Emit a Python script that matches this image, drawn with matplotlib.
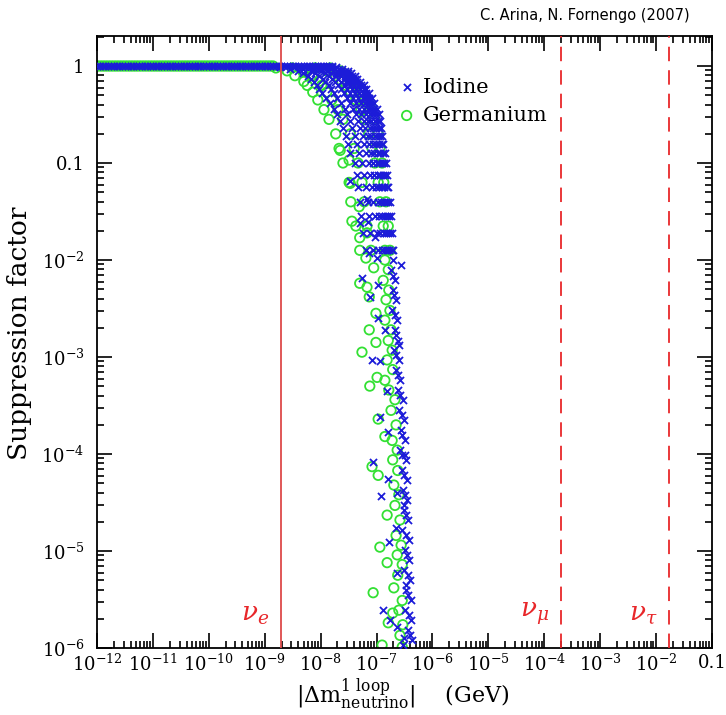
import numpy as np
import matplotlib
matplotlib.use("Agg")
import matplotlib.pyplot as plt
from matplotlib.ticker import LogLocator, NullFormatter

plt.rcParams["font.family"] = ["DejaVu Serif"]
plt.rcParams["mathtext.fontset"] = "dejavuserif"

# --- data: log10 |dm| (GeV) and log10 suppression factor ---

# flat part, suppression = 1
flat_logx = [-12.00, -11.95, -11.90, -11.85, -11.80, -11.75, -11.70, -11.65, -11.60, -11.55,
             -11.50, -11.45, -11.40, -11.35, -11.30, -11.25, -11.20, -11.15, -11.10, -11.05,
             -11.00, -10.95, -10.90, -10.85, -10.80, -10.75, -10.70, -10.65, -10.60, -10.55,
             -10.50, -10.45, -10.40, -10.35, -10.30, -10.25, -10.20, -10.15, -10.10, -10.05,
             -10.00, -9.95, -9.90, -9.85, -9.80, -9.75, -9.70, -9.65, -9.60, -9.55,
             -9.50, -9.45, -9.40, -9.35, -9.30, -9.25, -9.20, -9.15, -9.10, -9.05,
             -9.00, -8.95, -8.90, -8.85, -8.80, -8.75, -8.70, -8.65, -8.60, -8.55,
             -8.50, -8.45, -8.40, -8.35, -8.30, -8.25, -8.20, -8.15, -8.10, -8.05,
             -8.00, -7.95, -7.90, -7.85, -7.80]
germanium_flat_end = -8.85

# bending part, iodine (one row per curve, values at iodine_fan_logy)
iodine_fan_logy = [-0.01, -0.03, -0.05, -0.07, -0.10, -0.13, -0.16, -0.20, -0.24, -0.28,
                   -0.33, -0.38, -0.44, -0.50, -0.57, -0.64, -0.72, -0.80, -0.90, -1.00,
                   -1.12, -1.25, -1.40, -1.55, -1.72, -1.90]
iodine_fan_logx = [
    [-7.73, -7.62, -7.51, -7.46, -7.39, -7.34, -7.30, -7.22, -7.18, -7.13, -7.08, -7.05, -7.00,
     -6.96, -6.94, -6.92, -6.90, -6.88, -6.85, -6.83, -6.81, -6.79, -6.76, -6.74, -6.72, -6.71],
    [-7.79, -7.67, -7.56, -7.51, -7.44, -7.39, -7.35, -7.27, -7.23, -7.18, -7.13, -7.09, -7.05,
     -7.01, -6.98, -6.96, -6.94, -6.91, -6.89, -6.86, -6.85, -6.82, -6.79, -6.77, -6.75, -6.73],
    [-7.86, -7.74, -7.63, -7.57, -7.49, -7.45, -7.40, -7.33, -7.29, -7.24, -7.19, -7.15, -7.10,
     -7.06, -7.03, -7.01, -6.98, -6.96, -6.93, -6.90, -6.88, -6.86, -6.83, -6.81, -6.79, -6.77],
    [-7.94, -7.81, -7.70, -7.64, -7.56, -7.51, -7.47, -7.40, -7.36, -7.31, -7.25, -7.21, -7.16,
     -7.12, -7.09, -7.06, -7.03, -7.01, -6.98, -6.95, -6.93, -6.90, -6.87, -6.85, -6.83, -6.81],
    [-8.03, -7.90, -7.78, -7.72, -7.64, -7.59, -7.54, -7.48, -7.43, -7.38, -7.33, -7.28, -7.23,
     -7.19, -7.15, -7.12, -7.09, -7.06, -7.04, -7.00, -6.98, -6.95, -6.92, -6.90, -6.87, -6.85],
    [-8.14, -8.00, -7.88, -7.81, -7.73, -7.68, -7.64, -7.57, -7.52, -7.47, -7.42, -7.37, -7.31,
     -7.27, -7.23, -7.20, -7.16, -7.13, -7.10, -7.06, -7.04, -7.01, -6.98, -6.95, -6.93, -6.91],
    [-8.28, -8.13, -8.00, -7.93, -7.85, -7.80, -7.75, -7.69, -7.64, -7.59, -7.53, -7.48, -7.42,
     -7.37, -7.33, -7.29, -7.25, -7.22, -7.19, -7.14, -7.12, -7.08, -7.06, -7.03, -7.00, -6.98],
    [-8.48, -8.32, -8.18, -8.10, -8.02, -7.96, -7.92, -7.85, -7.81, -7.76, -7.70, -7.64, -7.57,
     -7.52, -7.48, -7.43, -7.38, -7.35, -7.31, -7.26, -7.23, -7.19, -7.16, -7.14, -7.11, -7.07],
    [-8.73, -8.55, -8.40, -8.32, -8.23, -8.17, -8.12, -8.06, -8.03, -7.98, -7.90, -7.83, -7.76,
     -7.71, -7.65, -7.60, -7.55, -7.51, -7.47, -7.39, -7.35, -7.33, -7.30, -7.28, -7.24, -7.19],
]

# bending part, germanium
germanium_fan_logy = [-0.02, -0.05, -0.10, -0.16, -0.20, -0.27, -0.35, -0.45,
                      -0.55, -0.70, -0.85, -1.00, -1.20, -1.40, -1.65, -1.90]
germanium_fan_logx = [
    [-8.80, -8.60, -8.46, -8.30, -8.24, -8.14, -8.05, -7.94, -7.85, -7.73, -7.67, -7.60, -7.49, -7.46, -7.37, -7.30],
    [-8.51, -8.32, -8.15, -8.03, -7.98, -7.89, -7.80, -7.69, -7.60, -7.47, -7.40, -7.33, -7.26, -7.22, -7.17, -7.10],
    [-8.10, -7.89, -7.73, -7.62, -7.55, -7.46, -7.37, -7.28, -7.21, -7.14, -7.08, -7.03, -6.97, -6.94, -6.88, -6.85],
    [-7.83, -7.65, -7.51, -7.40, -7.33, -7.26, -7.17, -7.08, -7.03, -6.97, -6.94, -6.90, -6.87, -6.83, -6.79, -6.76],
]

# steep tail, single points
iodine_tail_logx = [
    -7.47, -7.30, -7.15, -7.03, -7.17,
    -7.14, -6.99, -7.26, -6.97, -7.12, -6.97, -6.85, -7.08, -6.94, -6.81, -6.94, -6.79,
    -7.06, -6.79, -6.92, -6.63, -6.65, -6.78, -6.63, -6.88, -6.76, -6.63, -6.51,
    -6.71, -6.74, -6.67, -6.71, -6.65, -6.72, -6.63, -6.67, -6.62, -6.69, -6.60, -6.65,
    -6.58, -6.62, -6.53, -6.60, -6.51, -6.56, -6.49, -6.58, -6.47, -6.54, -6.46, -6.53,
    -6.46, -6.51, -6.44, -6.54, -6.42, -6.49, -6.42, -6.51, -6.40, -6.47, -6.38, -6.49,
    -6.38, -6.44, -6.37, -6.56, -6.60, -6.54, -6.51, -6.47, -6.53,
    -6.71, -6.69, -6.67, -6.65, -6.65, -6.62, -6.58, -6.54, -6.54, -6.49, -6.51, -6.49,
    -6.47, -6.47, -6.46, -6.44, -6.44, -6.42, -6.40,
]
iodine_tail_logy = [
    -1.19, -1.62, -1.61, -1.76, -1.37,
    -1.93, -1.98, -2.19, -2.26, -2.38, -2.60, -2.72, -3.03, -3.04, -3.35, -3.62, -3.77,
    -4.08, -4.26, -4.43, -4.40, -4.76, -4.91, -5.23, -5.61, -5.71, -5.78, -5.90,
    -2.00, -2.10, -2.21, -2.31, -2.41, -2.52, -2.62, -2.72, -2.83, -2.93, -3.03, -3.13,
    -3.24, -3.34, -3.44, -3.55, -3.65, -3.75, -3.86, -3.96, -4.06, -4.17, -4.27, -4.37,
    -4.47, -4.58, -4.68, -4.78, -4.89, -4.99, -5.09, -5.20, -5.30, -5.40, -5.51, -5.61,
    -5.71, -5.81, -5.92, -2.05, -2.88, -4.01, -4.53, -5.35, -5.97,
    -2.16, -2.36, -2.57, -2.77, -2.98, -3.19, -3.39, -3.60, -3.80, -4.01, -4.22, -4.42,
    -4.63, -4.84, -5.04, -5.25, -5.45, -5.66, -5.87,
]

germanium_tail_logx = [
    -7.65, -7.49, -7.47, -7.31, -7.44, -7.30, -7.17,
    -7.19, -7.05, -7.17, -7.13, -7.01, -7.13, -7.01, -7.26, -6.99, -7.12, -6.85, -7.30,
    -6.97, -6.85, -7.08, -6.97, -6.81, -6.94, -6.81, -7.06, -6.69, -6.79, -6.90, -6.71, -6.54,
    -6.85, -6.79, -6.88, -6.78, -6.83, -6.76, -6.85, -6.74, -6.79, -6.72, -6.81, -6.71,
    -6.78, -6.67, -6.74, -6.65, -6.72, -6.63, -6.71, -6.62, -6.69, -6.60, -6.67, -6.58,
    -6.65, -6.56, -6.63, -6.54, -6.62, -6.54, -6.60, -6.53, -6.58,
]
germanium_tail_logy = [
    -0.87, -0.97, -1.21, -1.45, -1.60, -1.77, -1.72,
    -1.98, -2.08, -2.28, -2.38, -2.55, -2.72, -2.85, -2.95, -3.21, -3.30, -3.24, -2.24,
    -3.64, -3.82, -4.13, -4.22, -4.63, -4.96, -5.12, -5.43, -5.38, -5.74, -5.97, -5.64, -5.99,
    -2.00, -2.10, -2.21, -2.31, -2.41, -2.52, -2.62, -2.72, -2.83, -2.93, -3.03, -3.13,
    -3.34, -3.44, -3.55, -3.70, -3.86, -3.96, -4.06, -4.17, -4.32, -4.42, -4.53, -4.68,
    -4.84, -4.94, -5.04, -5.14, -5.25, -5.51, -5.61, -5.76, -5.87,
]

# light neutrino masses (GeV)
nu_names = [r"$\nu_e$", r"$\nu_\mu$", r"$\nu_\tau$"]
nu_masses = [1.95e-9, 2.0e-4, 1.7e-2]
nu_styles = ["-", "--", "--"]

xtick_labels = [r"$10^{-12}$", r"$10^{-11}$", r"$10^{-10}$", r"$10^{-9}$", r"$10^{-8}$",
                r"$10^{-7}$", r"$10^{-6}$", r"$10^{-5}$", r"$10^{-4}$", r"$10^{-3}$",
                r"$10^{-2}$", "0.1"]
ytick_labels = [r"$10^{-6}$", r"$10^{-5}$", r"$10^{-4}$", r"$10^{-3}$", r"$10^{-2}$",
                "0.1", "1"]


def collect(fan_logx, fan_logy, flat_end, tail_x, tail_y):
    lx = [v for v in flat_logx if v <= flat_end]
    ly = [0.0] * len(lx)
    for curve in fan_logx:
        lx += curve
        ly += fan_logy
    lx += tail_x
    ly += tail_y
    return 10 ** np.array(lx), 10 ** np.array(ly)


i_x, i_y = collect(iodine_fan_logx, iodine_fan_logy, 0.0,
                   iodine_tail_logx, iodine_tail_logy)
g_x, g_y = collect(germanium_fan_logx, germanium_fan_logy, germanium_flat_end,
                   germanium_tail_logx, germanium_tail_logy)

blue = "#1c1cd8"
green = "#33e033"
red = "#e8272a"

fig = plt.figure(figsize=(7.26, 7.15), dpi=100)
ax = fig.add_axes([0.1336, 0.0937, 0.847, 0.856])

ax.scatter(g_x, g_y, s=46, facecolors="none", edgecolors=green, linewidths=1.3,
           zorder=2, label="Germanium")
ax.scatter(i_x, i_y, s=26, marker="x", color=blue, linewidths=1.3, zorder=3,
           label="Iodine")

for name, m, ls in zip(nu_names, nu_masses, nu_styles):
    if ls == "-":
        ax.axvline(m, color="#dd4a4a", lw=1.3, zorder=4)
    else:
        ax.axvline(m, color=red, lw=1.3, ls=(0, (8, 5)), zorder=4)
    ax.text(m / 1.6, 1.65e-6, name, color=red, fontsize=19, ha="right", va="bottom")

ax.set_xscale("log")
ax.set_yscale("log")
ax.set_xlim(1e-12, 0.1)
ax.set_ylim(1e-6, 2.04)

ax.set_xticks([10.0 ** k for k in range(-12, 0)])
ax.set_xticklabels(xtick_labels)
ax.set_yticks([10.0 ** k for k in range(-6, 1)])
ax.set_yticklabels(ytick_labels)
ax.xaxis.set_minor_locator(LogLocator(base=10, subs=np.arange(2, 10), numticks=100))
ax.yaxis.set_minor_locator(LogLocator(base=10, subs=np.arange(2, 10), numticks=100))
ax.xaxis.set_minor_formatter(NullFormatter())
ax.yaxis.set_minor_formatter(NullFormatter())
ax.tick_params(which="both", direction="in", top=True, right=True, width=1.2)
ax.tick_params(which="major", length=11, labelsize=13)
ax.tick_params(axis="x", which="major", pad=4)
ax.tick_params(axis="y", which="major", pad=9)
ax.tick_params(which="minor", length=5)
for s in ax.spines.values():
    s.set_linewidth(1.3)

ax.set_ylabel("Suppression factor", fontsize=19)
ax.yaxis.set_label_coords(-0.105, 0.515)
ax.set_xlabel(r"$|\Delta \mathrm{m}^{1\ \mathrm{loop}}_{\mathrm{neutrino}}|$    (GeV)",
              fontsize=16)
ax.xaxis.set_label_coords(0.497, -0.047)

handles, labels = ax.get_legend_handles_labels()
ax.legend(handles[::-1], labels[::-1], loc="upper left", bbox_to_anchor=(0.49, 0.932),
          frameon=False, fontsize=15, handlelength=0.8, handletextpad=0.4,
          labelspacing=0.45, borderpad=0, borderaxespad=0)

fig.text(0.95, 0.978, "C. Arina, N. Fornengo (2007)", fontsize=10.5,
         family="DejaVu Sans", ha="right", va="center")

fig.savefig("out.png", dpi=100)
